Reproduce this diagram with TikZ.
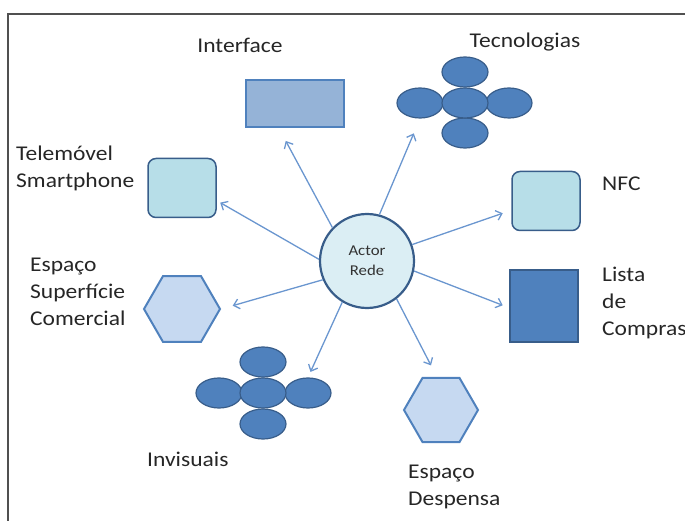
\documentclass[tikz,border=0pt]{standalone}
\usepackage{fontspec}
\setmainfont{Carlito}[FakeStretch=1.12]
\usetikzlibrary{shapes.geometric,arrows.meta}

\definecolor{frameGray}{HTML}{505050}
\definecolor{actorFill}{HTML}{DBEEF4}
\definecolor{darkBlue}{HTML}{385D8A}
\definecolor{midBlue}{HTML}{4F81BD}
\definecolor{ifaceFill}{HTML}{95B3D7}
\definecolor{aquaFill}{HTML}{B7DEE8}
\definecolor{hexFill}{HTML}{C6D9F1}
\definecolor{linkBlue}{HTML}{6A96CF}

\begin{document}
\begin{tikzpicture}[x=1pt, y=-1pt,
    lbl/.style={inner sep=0pt, font=\fontsize{21}{27}\selectfont, text=black!85},
    link/.style={draw=linkBlue, line width=1.3pt, -{Straight Barb[length=5.5pt,width=10pt]}},
    blob/.style={ellipse, draw=darkBlue, fill=midBlue, line width=1.2pt, minimum width=46pt, minimum height=30pt, inner sep=0pt},
    hexa/.style={regular polygon, regular polygon sides=6, draw=midBlue, fill=hexFill, line width=2pt, minimum size=76pt, inner sep=0pt},
    roundbox/.style={rounded corners=8pt, draw=darkBlue, fill=aquaFill, line width=1.5pt, minimum width=68pt, minimum height=59pt, inner sep=0pt}]
    \useasboundingbox (0,0) rectangle (685,521);
    \draw[frameGray, line width=2pt] (8,521) -- (8,14) -- (685,14);

    \node[circle, draw=darkBlue, fill=actorFill, line width=2.2pt, minimum size=94pt, inner sep=0pt, align=center, font=\fontsize{15}{20}\selectfont, text=black!80] (actor) at (367,261) {Actor\\Rede};

    \node[draw=midBlue, fill=ifaceFill, line width=1.5pt, minimum width=98pt, minimum height=47pt, inner sep=0pt] (iface) at (295,103.5) {};
    \node[lbl] (ifaceLbl) at (240,45) {Interface};

    \node[blob] (tecN) at (465,72) {};
    \node[blob] (tecS) at (465,133) {};
    \node[blob] (tecW) at (420,103) {};
    \node[blob] (tecE) at (509,103) {};
    \node[blob] (tec) at (465,103) {};
    \node[lbl] (tecLbl) at (525,42) {Tecnologias};

    \node[roundbox] (tel) at (182,188) {};
    \node[lbl, anchor=west, align=left] (telLbl) at (16,168) {Telemóvel\\Smartphone};

    \node[roundbox] (nfc) at (546,201) {};
    \node[lbl, anchor=west] (nfcLbl) at (602,184) {NFC};

    \node[draw=darkBlue, fill=midBlue, line width=1.5pt, minimum width=68pt, minimum height=72pt, inner sep=0pt] (lista) at (544,306) {};
    \node[lbl, anchor=west, align=left] (listaLbl) at (602,303) {Lista\\de\\Compras};

    \node[hexa] (com) at (182,309) {};
    \node[lbl, anchor=west, align=left] (comLbl) at (30,292) {Espaço\\Superfície\\Comercial};

    \node[blob] (invN) at (263,362) {};
    \node[blob] (invS) at (263,424) {};
    \node[blob] (invW) at (219,393) {};
    \node[blob] (invE) at (308,393) {};
    \node[blob] (inv) at (263,393) {};
    \node[lbl, anchor=west] (invLbl) at (147,459) {Invisuais};

    \node[hexa, minimum size=74pt] (desp) at (441,410) {};
    \node[lbl, anchor=west, align=left] (despLbl) at (408,487) {Espaço\\Despensa};

    \draw[link, shorten >=15pt] (actor.136) -- (iface.236);
    \draw[link, shorten >=16pt] (actor.75) -- (tecW.south);
    \draw[link, shorten >=4pt] (actor.178) -- (tel.340);
    \draw[link, shorten >=9pt] (actor.20) -- (nfc.195);
    \draw[link, shorten >=12pt] (actor.203) -- (com.east);
    \draw[link, shorten >=7pt] (actor.348) -- (lista.183);
    \draw[link, shorten >=6pt] (actor.239) -- (invE.north);
    \draw[link, shorten >=13pt] (actor.308) -- (desp.97);
\end{tikzpicture}
\end{document}
